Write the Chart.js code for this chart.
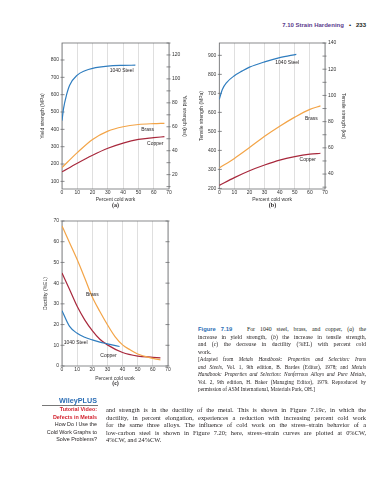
<!DOCTYPE html>
<html>
<head>
<meta charset="utf-8">
<script src="https://cdn.jsdelivr.net/npm/chart.js@4.4.1/dist/chart.umd.min.js"></script>
<style>
  body { margin: 0; background: #fff; }
  #page { position: relative; width: 383px; height: 480px; overflow: hidden; font-family: 'Liberation Serif', serif; color: #231f20; }
  canvas { position: absolute; }
  .t { position: absolute; white-space: nowrap; }
  .ln { position: absolute; text-align: justify; text-align-last: justify; }
  .sb { position: absolute; right: 286px; white-space: nowrap; font-family: 'Liberation Sans', sans-serif; font-size: 5.4px; line-height: 7.6px; text-align: right; }
</style>
</head>
<body>
<div id="page">
  <div class="t" style="right:17px;top:22px;font:bold 6px 'Liberation Sans',sans-serif;"><span style="color:#5b3b8c">7.10 Strain Hardening</span>&nbsp;&nbsp;&nbsp;•&nbsp;&nbsp;&nbsp;233</div>

  <canvas id="ca" width="190" height="180" style="left:0;top:35px"></canvas>
  <canvas id="cb" width="193" height="180" style="left:190px;top:35px"></canvas>
  <canvas id="cc" width="190" height="175" style="left:0;top:214px"></canvas>

  <div class="t" style="left:95px;top:202px;width:41px;text-align:center;font:bold 6px 'Liberation Serif',serif">(a)</div>
  <div class="t" style="left:252px;top:202px;width:41px;text-align:center;font:bold 6px 'Liberation Serif',serif">(b)</div>
  <div class="t" style="left:95px;top:380px;width:41px;text-align:center;font:bold 6px 'Liberation Serif',serif">(c)</div>

  <!-- caption -->
  <div class="ln" style="left:198px;top:326px;width:168px;font-size:5.8px;line-height:7px"><b style="color:#2a6db5;font-family:'Liberation Sans',sans-serif">Figure 7.19</b>&nbsp;&nbsp; For 1040 steel, brass, and copper, (<i>a</i>) the</div>
  <div class="ln" style="left:198px;top:333.5px;width:168px;font-size:5.8px;line-height:7px">increase in yield strength, (<i>b</i>) the increase in tensile strength,</div>
  <div class="ln" style="left:198px;top:341px;width:168px;font-size:5.8px;line-height:7px">and (<i>c</i>) the decrease in ductility (%EL) with percent cold</div>
  <div class="t" style="left:198px;top:348.5px;font-size:5.8px;line-height:7px">work.</div>
  <div class="ln" style="left:198px;top:356px;width:168px;font-size:5.3px;line-height:7px">[Adapted from <i>Metals Handbook: Properties and Selection: Irons</i></div>
  <div class="ln" style="left:198px;top:363.5px;width:168px;font-size:5.3px;line-height:7px"><i>and Steels</i>, Vol. 1, 9th edition, B. Bardes (Editor), 1978; and <i>Metals</i></div>
  <div class="ln" style="left:198px;top:371px;width:168px;font-size:5.3px;line-height:7px"><i>Handbook: Properties and Selection: Nonferrous Alloys and Pure Metals</i>,</div>
  <div class="ln" style="left:198px;top:378.5px;width:168px;font-size:5.3px;line-height:7px">Vol. 2, 9th edition, H. Baker (Managing Editor), 1979. Reproduced by</div>
  <div class="t" style="left:198px;top:386px;font-size:5.3px;line-height:7px">permission of ASM International, Materials Park, OH.]</div>

  <!-- side bar -->
  <div class="sb" style="top:396px;font-size:7.2px;line-height:9px;font-weight:bold;color:#2a6db5">WileyPLUS</div>
  <div style="position:absolute;left:42px;top:405px;width:56px;height:0;border-top:0.7px solid #777"></div>
  <div class="sb" style="top:406px;font-weight:bold;color:#d3232f">Tutorial Video:</div>
  <div class="sb" style="top:413.6px;font-weight:bold;color:#d3232f">Defects in Metals</div>
  <div class="sb" style="top:421.2px">How Do I Use the</div>
  <div class="sb" style="top:428.8px">Cold Work Graphs to</div>
  <div class="sb" style="top:436.4px">Solve Problems?</div>

  <!-- body text -->
  <div class="ln" style="left:106px;top:406px;width:260px;font-size:6.4px;line-height:7.6px">and strength is in the ductility of the metal. This is shown in Figure 7.19<i>c</i>, in which the</div>
  <div class="ln" style="left:106px;top:413.6px;width:260px;font-size:6.4px;line-height:7.6px">ductility, in percent elongation, experiences a reduction with increasing percent cold work</div>
  <div class="ln" style="left:106px;top:421.2px;width:260px;font-size:6.4px;line-height:7.6px">for the same three alloys. The influence of cold work on the stress–strain behavior of a</div>
  <div class="ln" style="left:106px;top:428.8px;width:260px;font-size:6.4px;line-height:7.6px">low-carbon steel is shown in Figure 7.20; here, stress–strain curves are plotted at 0%CW,</div>
  <div class="t" style="left:106px;top:436.4px;font-size:6.4px;line-height:7.6px">4%CW, and 24%CW.</div>
</div>

<script>
// percent cold work read for each curve, and the values
var cwSteelYield = [0, 1, 3, 5, 10, 15, 20, 30, 40, 48]
var steelYield = [450, 520, 600, 655, 713, 738, 752, 765, 769, 770]
var cwYield = [0, 10, 20, 30, 40, 50, 60, 67]
var brassYield = [180, 266, 342, 390, 415, 428, 433, 435]
var copperYield = [155, 205, 251, 291, 321, 342, 352, 358]

var cwSteelTensile = [0, 2, 5, 10, 15, 20, 30, 40, 51]
var steelTensile = [669, 720, 758, 793, 817, 838, 866, 888, 905]
var cwTensile = [0, 10, 20, 30, 40, 50, 60, 67]
var brassTensile = [308, 358, 415, 474, 527, 575, 616, 634]
var copperTensile = [216, 257, 293, 323, 349, 367, 380, 385]

var cwSteelDuct = [0, 5, 10, 15, 20, 25, 30, 38]
var steelDuct = [26.7, 19.1, 15.8, 13.9, 12.6, 11.5, 10.7, 9.4]
var cwBrassDuct = [0, 5, 10, 15, 20, 25, 30, 35, 40, 45, 50, 60, 65]
var brassDuct = [67.6, 59.5, 51.4, 42.5, 33.3, 26.3, 19.9, 14.2, 10.2, 7.8, 5.8, 3.7, 2.9]
var cwCopperDuct = [0, 5, 10, 15, 20, 25, 30, 40, 50, 60, 65]
var copperDuct = [44.9, 36.9, 28.8, 22.3, 17.1, 12.9, 10.2, 6.5, 4.8, 4.2, 3.9]

// tick labels
var cwTicks = [0, 10, 20, 30, 40, 50, 60, 70]
var yieldMpaTicks = [100, 200, 300, 400, 500, 600, 700, 800]
var yieldKsiTicks = [20, 40, 60, 80, 100, 120]
var tensileMpaTicks = [200, 300, 400, 500, 600, 700, 800, 900]
var tensileKsiTicks = [40, 60, 80, 100, 120, 140]
var ductTicks = [0, 10, 20, 30, 40, 50, 60, 70]

var STEEL = '#2f7dbf'
var BRASS = '#f3a447'
var COPPER = '#a8283c'
var tickFont = { family: "'Liberation Sans', sans-serif", size: 5 }

function series (xs, ys, color) {
  return {
    data: xs.map(function (x, i) { return { x: x, y: ys[i] } }),
    borderColor: color,
    borderWidth: 1.2,
    pointRadius: 0,
    cubicInterpolationMode: 'monotone',
    fill: false
  }
}

function fixTicks (arr) {
  return function (s) { s.ticks = arr.map(function (v) { return { value: v } }) }
}

// frame round the plot and short tick marks across the side axes
var framePlugin = {
  id: 'frame',
  beforeDatasetsDraw: function (chart) {
    var a = chart.chartArea
    var ctx = chart.ctx
    ctx.save()
    ctx.strokeStyle = '#6d6e71'
    ctx.lineWidth = 0.8
    ctx.strokeRect(a.left, a.top, a.right - a.left, a.bottom - a.top)
    ;['y', 'y2'].forEach(function (id) {
      var s = chart.scales[id]
      if (!s) return
      var left = s.position === 'left'
      var x0 = left ? a.left : a.right
      var dir = left ? 1 : -1
      var step = (s.ticks[1].value - s.ticks[0].value) / (s.options.minorDiv || 1)
      for (var v = s.ticks[0].value - step * 4; v <= s.max; v += step) {
        if (v < s.min) continue
        var py = s.getPixelForValue(v)
        ctx.beginPath()
        ctx.moveTo(x0 - dir * 1.5, py)
        ctx.lineTo(x0 + dir * 2.5, py)
        ctx.stroke()
      }
    })
    ctx.restore()
  }
}

var labelPlugin = {
  id: 'curveLabels',
  afterDatasetsDraw: function (chart, args, opts) {
    var ctx = chart.ctx
    ctx.save()
    ctx.font = "5px 'Liberation Sans', sans-serif"
    ctx.fillStyle = '#231f20'
    ctx.textAlign = 'center'
    ctx.textBaseline = 'middle'
    var items = opts.items || []
    items.forEach(function (it) {
      ctx.fillText(it.text, chart.scales.x.getPixelForValue(it.x), chart.scales.y.getPixelForValue(it.y))
    })
    ctx.restore()
  }
}

function makeChart (id, o) {
  var yScale = function (pos, c) {
    return {
      type: 'linear',
      position: pos,
      min: c.min,
      max: c.max,
      minorDiv: c.minorDiv,
      afterBuildTicks: fixTicks(c.ticks),
      afterFit: function (s) { s.width = c.width },
      grid: { display: false, drawTicks: false },
      border: { display: false },
      ticks: { display: c.labels !== false, font: tickFont, color: '#333', padding: 3 },
      title: { display: !!c.title, text: c.title, font: tickFont, color: '#333', padding: { top: c.titlePad, bottom: 0 } }
    }
  }
  return new Chart(document.getElementById(id), {
    type: 'line',
    data: { datasets: o.datasets },
    options: {
      responsive: false,
      animation: false,
      devicePixelRatio: 1,
      layout: { padding: { top: o.padTop, left: 0, right: 0, bottom: 0 } },
      plugins: { legend: { display: false }, tooltip: { enabled: false }, curveLabels: { items: o.labels } },
      scales: {
        x: {
          type: 'linear',
          min: 0,
          max: 70,
          afterBuildTicks: fixTicks(cwTicks),
          afterFit: function (s) { s.height = o.xHeight },
          grid: { color: '#c9c9c9', lineWidth: 0.6, drawTicks: false },
          border: { display: false },
          ticks: { font: tickFont, color: '#333', padding: 1, maxRotation: 0, autoSkip: false },
          title: { display: true, text: 'Percent cold work', font: tickFont, color: '#333', padding: { top: 0, bottom: o.xTitlePad } }
        },
        y: yScale('left', o.left),
        y2: yScale('right', o.right)
      }
    },
    plugins: [framePlugin, labelPlugin]
  })
}

makeChart('ca', {
  datasets: [series(cwSteelYield, steelYield, STEEL), series(cwYield, brassYield, BRASS), series(cwYield, copperYield, COPPER)],
  padTop: 8, xHeight: 26, xTitlePad: 12,
  left: { min: 56, max: 898, ticks: yieldMpaTicks, width: 62, title: 'Yield strength (MPa)', titlePad: 40 },
  right: { min: 8, max: 130, ticks: yieldKsiTicks, width: 21, title: 'Yield strength (ksi)', titlePad: 3, minorDiv: 2 },
  labels: [{ text: '1040 Steel', x: 39, y: 737 }, { text: 'Brass', x: 56, y: 400 }, { text: 'Copper', x: 61, y: 319 }]
})

makeChart('cb', {
  datasets: [series(cwSteelTensile, steelTensile, STEEL), series(cwTensile, brassTensile, BRASS), series(cwTensile, copperTensile, COPPER)],
  padTop: 8, xHeight: 26, xTitlePad: 12,
  left: { min: 197, max: 965, ticks: tensileMpaTicks, width: 29.3, title: 'Tensile strength (MPa)', titlePad: 8.7 },
  right: { min: 28.6, max: 140, ticks: tensileKsiTicks, width: 58, title: 'Tensile strength (ksi)', titlePad: 37, minorDiv: 2 },
  labels: [{ text: '1040 Steel', x: 45, y: 863 }, { text: 'Brass', x: 61, y: 568 }, { text: 'Copper', x: 58.6, y: 349 }]
})

makeChart('cc', {
  datasets: [series(cwSteelDuct, steelDuct, STEEL), series(cwBrassDuct, brassDuct, BRASS), series(cwCopperDuct, copperDuct, COPPER)],
  padTop: 7, xHeight: 23, xTitlePad: 7,
  left: { min: 0, max: 70, ticks: ductTicks, width: 62, title: 'Ductility (%EL)', titlePad: 43 },
  right: { min: 0, max: 70, ticks: ductTicks, width: 22, labels: false },
  labels: [{ text: '1040 Steel', x: 9, y: 11.4 }, { text: 'Brass', x: 20, y: 34.4 }, { text: 'Copper', x: 30.7, y: 5 }]
})
</script>
</body>
</html>
